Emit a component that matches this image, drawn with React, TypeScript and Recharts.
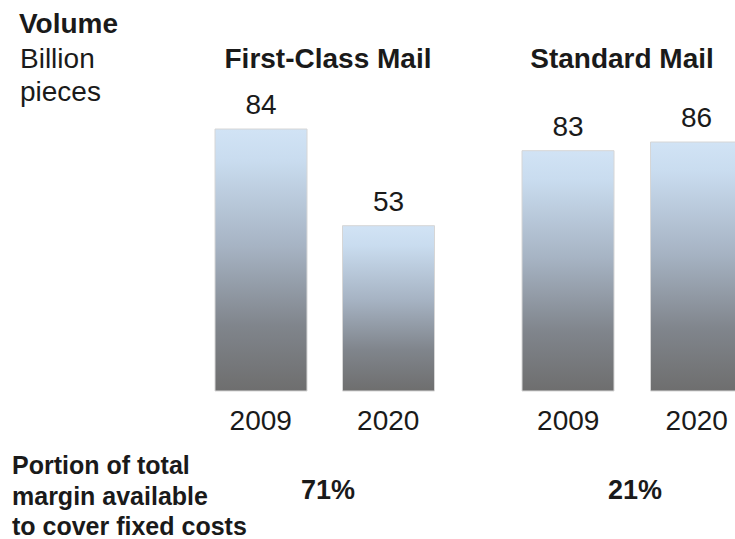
import { BarChart, Bar, XAxis, YAxis, LabelList } from "recharts"

const years = ["2009", "2020"]
const firstClassVolume = [84, 53]
const standardVolume = [83, 86]
const panelTitles = ["First-Class Mail", "Standard Mail"]
const marginShares = ["71%", "21%"]
const volumeLabel = ["Volume", "Billion", "pieces"]
const marginLabel = ["Portion of total", "margin available", "to cover fixed costs"]

const FONT = '"Liberation Sans", Arial, Helvetica, sans-serif'
const INK = "#1a1a1a"

const toRows = (values: number[]) => years.map((year, i) => ({ year, value: values[i] }))

const YearTick = (props: any) => {
  const { x, y, payload } = props
  return (
    <text x={x} y={y + 31} textAnchor="middle" fontSize={28} fill={INK} fontFamily={FONT}>
      {payload.value}
    </text>
  )
}

interface PanelProps {
  id: string
  values: number[]
  left: number
  width: number
  top: number
}

function Panel({ id, values, left, width, top }: PanelProps) {
  return (
    <div style={{ position: "absolute", left, top: 0 }}>
      <BarChart
        width={width}
        height={539}
        data={toRows(values)}
        margin={{ top, right: 0, bottom: 88, left: 0 }}
        barSize={92}
      >
        <defs>
          <linearGradient id={id} x1="0" y1="0" x2="0" y2="1">
            <stop offset="0%" stopColor="#d1e3f5" />
            <stop offset="12%" stopColor="#c9dcef" />
            <stop offset="45%" stopColor="#a6b3c3" />
            <stop offset="75%" stopColor="#80858c" />
            <stop offset="100%" stopColor="#6e6e6e" />
          </linearGradient>
        </defs>
        <XAxis dataKey="year" axisLine={false} tickLine={false} height={60} tick={<YearTick />} interval={0} />
        <YAxis hide domain={[0, "dataMax"]} />
        <Bar dataKey="value" fill={`url(#${id})`} stroke="#d6d6d6" strokeWidth={1} isAnimationActive={false}>
          <LabelList
            dataKey="value"
            position="top"
            offset={15}
            style={{ fontSize: 28, fill: INK, fontFamily: FONT }}
          />
        </Bar>
      </BarChart>
    </div>
  )
}

export default function App() {
  return (
    <div
      style={{
        position: "absolute",
        left: 0,
        top: 0,
        width: 735,
        height: 539,
        overflow: "hidden",
        background: "#fff",
      }}
    >
      <Panel id="fcm" values={firstClassVolume} left={197} width={255} top={129} />
      <Panel id="std" values={standardVolume} left={504} width={257} top={142} />
      <svg
        width={735}
        height={539}
        style={{ position: "absolute", left: 0, top: 0, pointerEvents: "none" }}
        fontFamily={FONT}
        fill={INK}
      >
        <text x={19} y={33} fontSize={28} fontWeight="bold">{volumeLabel[0]}</text>
        <text x={20} y={68} fontSize={28}>{volumeLabel[1]}</text>
        <text x={20} y={101} fontSize={28}>{volumeLabel[2]}</text>

        <text x={328} y={68} fontSize={28} fontWeight="bold" textAnchor="middle">{panelTitles[0]}</text>
        <text x={622} y={68} fontSize={28} fontWeight="bold" textAnchor="middle">{panelTitles[1]}</text>

        {marginLabel.map((line, i) => (
          <text key={line} x={12} y={474 + i * 30.5} fontSize={25} fontWeight="bold">{line}</text>
        ))}
        <text x={328} y={499} fontSize={27} fontWeight="bold" textAnchor="middle">{marginShares[0]}</text>
        <text x={635} y={499} fontSize={27} fontWeight="bold" textAnchor="middle">{marginShares[1]}</text>
      </svg>
    </div>
  )
}
